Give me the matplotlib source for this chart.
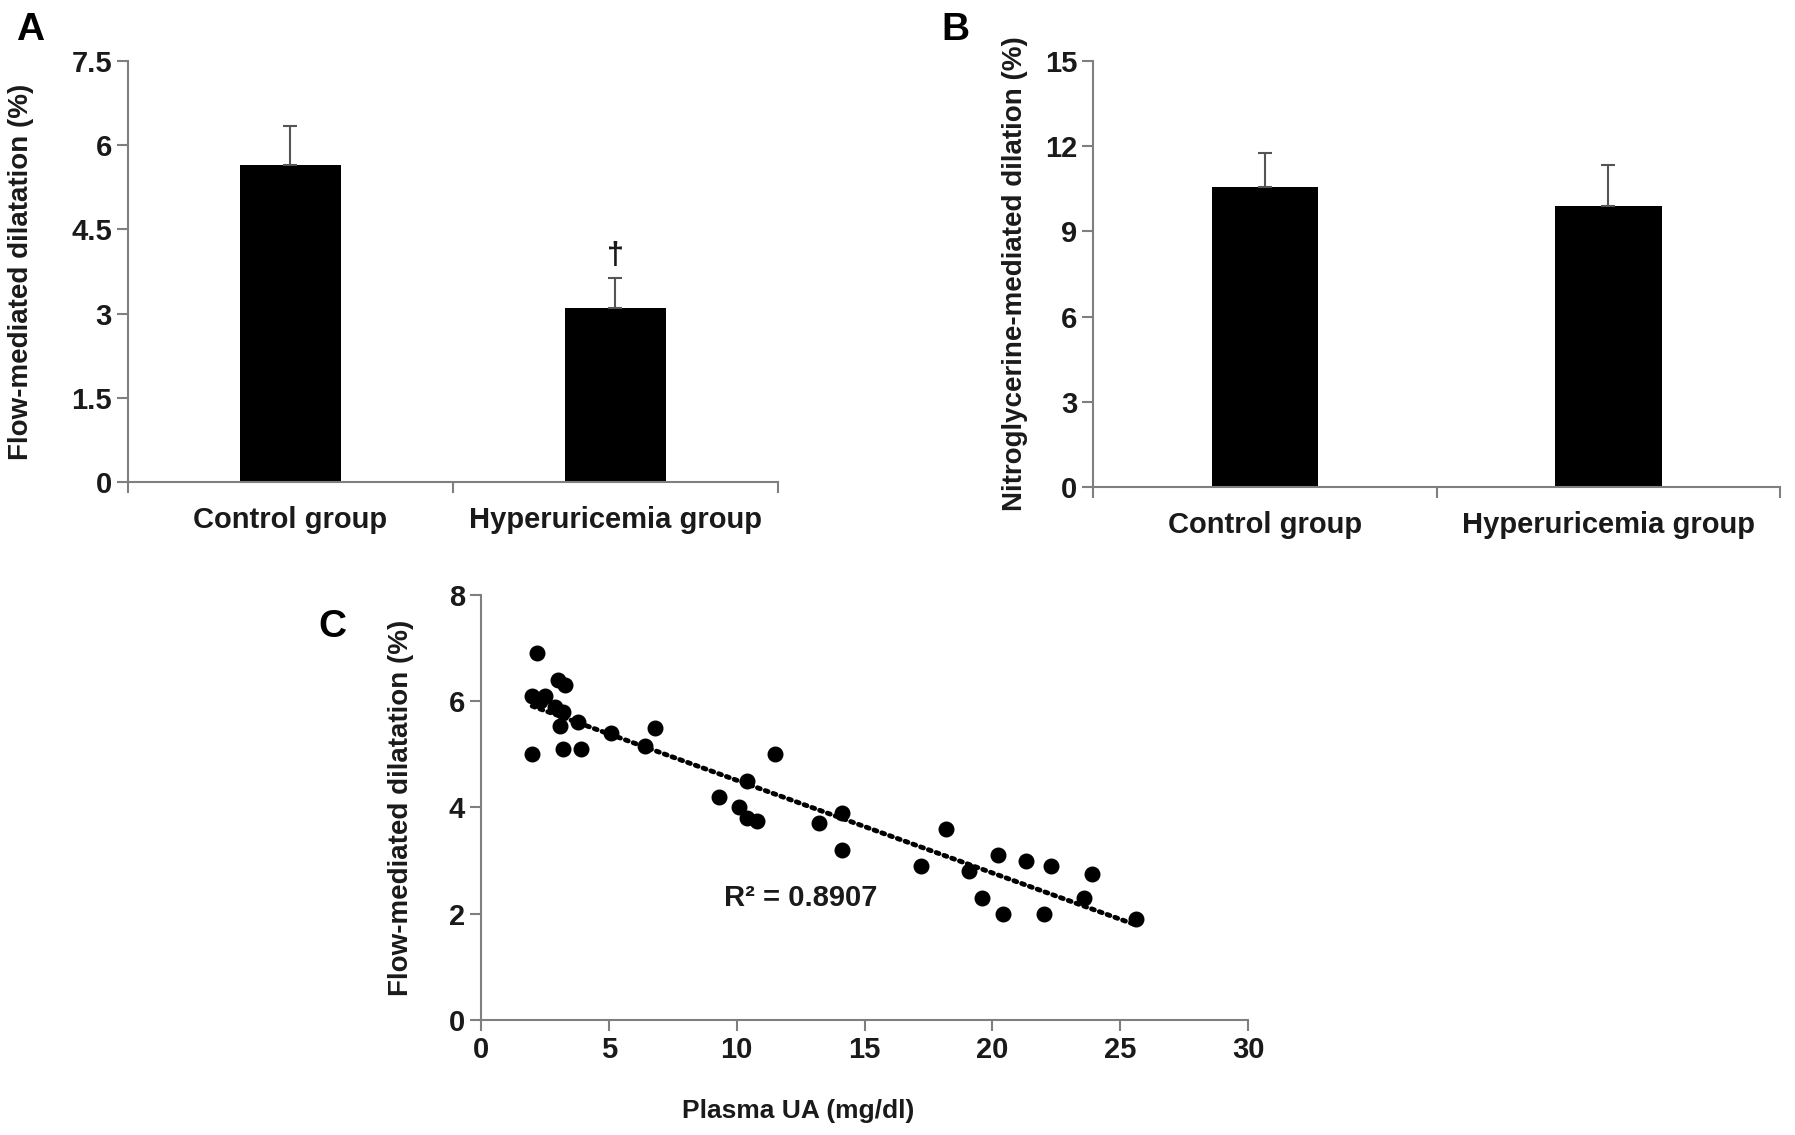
import numpy as np
import matplotlib
matplotlib.use('Agg')
from matplotlib import pyplot as plt

matplotlib.rcParams['font.family'] = ['Liberation Sans', 'DejaVu Sans']
matplotlib.rcParams['font.weight'] = 'bold'
matplotlib.rcParams['axes.labelweight'] = 'bold'

groups = ['Control group', 'Hyperuricemia group']
fmd_mean = [5.65, 3.1]
fmd_err = [0.7, 0.53]
nmd_mean = [10.55, 9.9]
nmd_err = [1.2, 1.45]

ua = [2.2, 2.0, 2.5, 2.3, 2.9, 3.0, 3.3, 3.2, 3.1, 3.8, 2.0, 3.2, 3.9, 5.1,
      6.4, 6.8, 9.3, 10.1, 10.4, 10.4, 10.8, 11.5, 13.2, 14.1, 14.1, 17.2,
      18.2, 19.1, 19.6, 20.2, 20.4, 21.3, 22.0, 22.3, 23.6, 23.9, 25.6]
fmd = [6.9, 6.1, 6.1, 6.0, 5.9, 6.4, 6.3, 5.8, 5.53, 5.6, 5.0, 5.1, 5.1, 5.4,
       5.15, 5.5, 4.2, 4.0, 4.5, 3.8, 3.75, 5.0, 3.7, 3.9, 3.2, 2.9,
       3.6, 2.8, 2.3, 3.1, 2.0, 3.0, 2.0, 2.9, 2.3, 2.75, 1.9]

spine_c = '#7f7f7f'
txt_c = '#1a1a1a'

fig = plt.figure(figsize=(17.95, 11.35), dpi=100)


def style(ax):
    for s in ['top', 'right']:
        ax.spines[s].set_visible(False)
    for s in ['left', 'bottom']:
        ax.spines[s].set_color(spine_c)
        ax.spines[s].set_linewidth(1.5)
    ax.tick_params(axis='both', direction='out', color=spine_c, width=1.5,
                   length=8, labelsize=21, labelcolor=txt_c)


def bar_panel(rect, means, errs, ymax, step, ylabel, letter, lx, ly, labx):
    ax = fig.add_axes(rect)
    x = np.arange(len(groups))
    ax.bar(x, means, width=0.31, color='black')
    ax.errorbar(x, means, yerr=[np.zeros(len(errs)), errs], fmt='none',
                ecolor='#555555', elinewidth=1.5, capsize=5, capthick=1.5)
    ax.set_xlim(-0.5, len(groups) - 0.5)
    ax.set_ylim(0, ymax)
    ax.set_yticks(np.arange(0, ymax + step / 2, step))
    ax.set_yticklabels(['%g' % v for v in np.arange(0, ymax + step / 2, step)])
    ax.set_xticks(np.arange(-0.5, len(groups), 1.0))
    ax.set_xticklabels([])
    for i, g in enumerate(groups):
        ax.text(i, -0.09, g, transform=ax.get_xaxis_transform(), ha='center',
                va='center', fontsize=21, color=txt_c)
    style(ax)
    ax.set_ylabel(ylabel, fontsize=20, color=txt_c)
    ax.yaxis.set_label_coords(labx, 0.5)
    fig.text(lx, ly, letter, fontsize=28, color='black', va='center', ha='center')
    return ax


axA = bar_panel([0.0713, 0.5753, 0.362, 0.371], fmd_mean, fmd_err, 7.5, 1.5,
                'Flow-mediated dilatation (%)', 'A', 0.017, 0.974, -0.145)
axA.text(1, fmd_mean[1] + fmd_err[1] + 0.12, '\u2020', ha='center', va='bottom',
         fontsize=22, color=txt_c)

axB = bar_panel([0.609, 0.5709, 0.3827, 0.3754], nmd_mean, nmd_err, 15, 3,
                'Nitroglycerine-mediated dilation (%)', 'B', 0.532, 0.974, -0.095)

axC = fig.add_axes([0.268, 0.1013, 0.4273, 0.3745])
axC.scatter(ua, fmd, s=110, color='black', zorder=3)
coef = np.polyfit(ua, fmd, 1)
xs = np.linspace(min(ua), max(ua), 50)
axC.plot(xs, np.polyval(coef, xs), color='black', lw=3.5,
         linestyle=(0, (0.6, 1.1)), dash_capstyle='round', zorder=2)
axC.text(12.5, 2.3, 'R\u00b2 = 0.8907', ha='center', va='center', fontsize=21, color=txt_c)
axC.set_xlim(0, 30)
axC.set_ylim(0, 8)
axC.set_xticks(np.arange(0, 31, 5))
axC.set_yticks(np.arange(0, 9, 2))
style(axC)
axC.set_xlabel('Plasma UA (mg/dl)', fontsize=19, color=txt_c)
axC.xaxis.set_label_coords(0.413, -0.185)
axC.set_ylabel('Flow-mediated dilatation (%)', fontsize=20, color=txt_c)
axC.yaxis.set_label_coords(-0.087, 0.5)
fig.text(0.185, 0.448, 'C', fontsize=28, color='black', va='center', ha='center')

fig.savefig('out.png', dpi=100)
